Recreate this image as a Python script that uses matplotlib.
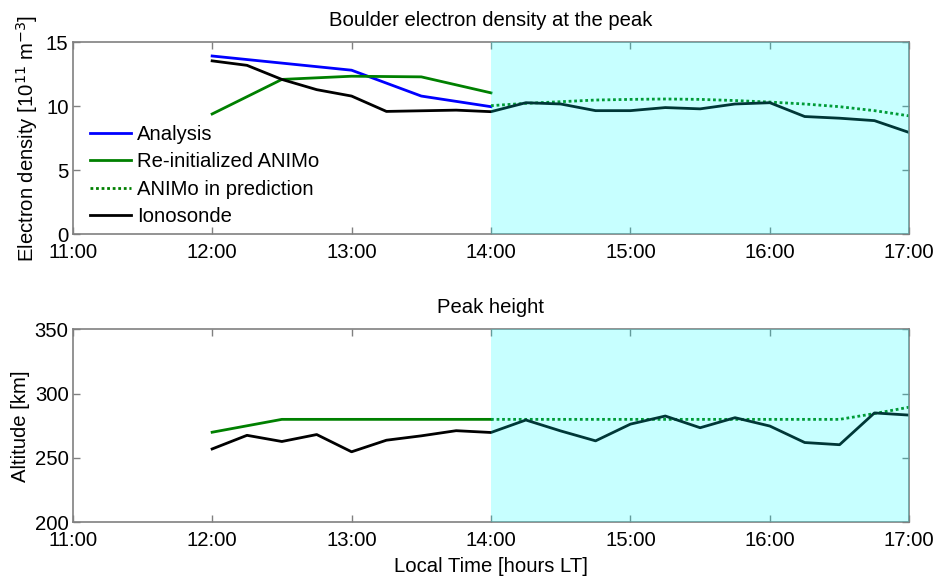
import matplotlib
matplotlib.use("Agg")
import matplotlib.pyplot as plt
from matplotlib.ticker import FuncFormatter

plt.rcParams['font.family'] = ['Liberation Sans', 'DejaVu Sans']

# ---- data (hours, local time) ----
t_analysis = [12.0, 13.0, 13.5, 14.0]
ne_analysis = [13.93, 12.82, 10.8, 9.97]

t_reinit = [12.0, 12.5, 13.0, 13.5, 14.0]
ne_reinit = [9.4, 12.1, 12.35, 12.3, 11.05]

t_pred = [14.0, 14.25, 14.5, 14.75, 15.0, 15.25, 15.5, 15.75, 16.0, 16.25, 16.5, 16.75, 17.0]
ne_pred = [10.05, 10.23, 10.36, 10.49, 10.54, 10.57, 10.54, 10.45, 10.33, 10.18, 9.97, 9.66, 9.25]

t_iono = [12.0, 12.25, 12.5, 12.75, 13.0, 13.25, 13.5, 13.75, 14.0, 14.25, 14.5, 14.75,
          15.0, 15.25, 15.5, 15.75, 16.0, 16.25, 16.5, 16.75, 17.0]
ne_iono = [13.55, 13.2, 12.1, 11.3, 10.8, 9.6, 9.65, 9.7, 9.58, 10.28, 10.18, 9.66,
           9.66, 9.9, 9.8, 10.18, 10.28, 9.2, 9.07, 8.88, 7.95]

h_reinit = [270.0, 280.0, 280.0, 280.0, 280.0]
h_pred = [280.0, 280.0, 280.0, 280.0, 280.0, 280.0, 280.0, 280.0, 280.0, 280.0, 280.0, 284.5, 289.5]
h_iono = [257.0, 267.6, 262.8, 268.2, 254.8, 263.8, 267.2, 271.2, 269.8, 279.5, 271.0, 263.3,
          276.3, 282.6, 273.5, 281.3, 274.8, 262.0, 260.3, 285.0, 283.3]

shade_start, shade_end = 14.0, 17.0
xticks = [11, 12, 13, 14, 15, 16, 17]

W, H = 941, 576
fig = plt.figure(figsize=(W / 100, H / 100), dpi=100)

def px_axes(left, top, right, bottom):
    return fig.add_axes([left / W, 1 - bottom / H, (right - left) / W, (bottom - top) / H])

ax1 = px_axes(72.7, 42.3, 909.3, 234.3)
ax2 = px_axes(72.7, 329.3, 909.3, 522.3)

FS = 14.6
blue = (0, 0, 1)
green = (0, 0.5, 0)
lw = 2.0

for ax in (ax1, ax2):
    ax.set_xlim(11, 17)
    ax.set_xticks(xticks)
    ax.xaxis.set_major_formatter(FuncFormatter(lambda v, p: f"{int(round(v))}:00"))
    ax.tick_params(direction='in', length=5, width=1, color='#808080', labelsize=FS,
                   top=True, right=True)
    ax.tick_params(axis='x', pad=6)
    ax.tick_params(axis='y', pad=3)
    for s in ax.spines.values():
        s.set_color('#808080')
        s.set_linewidth(1.2)
    ax.axvspan(shade_start, shade_end, color=(0, 1, 1), alpha=0.22, lw=0, zorder=5)

# top panel
ax1.plot(t_analysis, ne_analysis, color=blue, lw=lw, label='Analysis')
ax1.plot(t_reinit, ne_reinit, color=green, lw=lw, label='Re-initialized ANIMo')
ax1.plot(t_pred, ne_pred, color=green, lw=lw, ls=(0, (1, 1)), label='ANIMo in prediction')
ax1.plot(t_iono, ne_iono, color='black', lw=lw, label='Ionosonde')
ax1.set_ylim(0, 15)
ax1.set_yticks([0, 5, 10, 15])
ax1.set_title('Boulder electron density at the peak', fontsize=FS, pad=12)
ax1.set_ylabel('Electron density [10$^{11}$ m$^{-3}$]', fontsize=FS, labelpad=4)
leg = ax1.legend(loc='upper left', bbox_to_anchor=(0.0203, 0.57), frameon=False, fontsize=FS,
                 handlelength=2.05, handletextpad=0.3, labelspacing=0.42, borderaxespad=0,
                 borderpad=0)

# bottom panel
ax2.plot(t_reinit, h_reinit, color=green, lw=lw)
ax2.plot(t_pred, h_pred, color=green, lw=lw, ls=(0, (1, 1)))
ax2.plot(t_iono, h_iono, color='black', lw=lw)
ax2.set_ylim(200, 350)
ax2.set_yticks([200, 250, 300, 350])
ax2.set_title('Peak height', fontsize=FS, pad=12)
ax2.set_ylabel('Altitude [km]', fontsize=FS, labelpad=3)
ax2.set_xlabel('Local Time [hours LT]', fontsize=FS, labelpad=5)

fig.savefig('out.png', dpi=100)
